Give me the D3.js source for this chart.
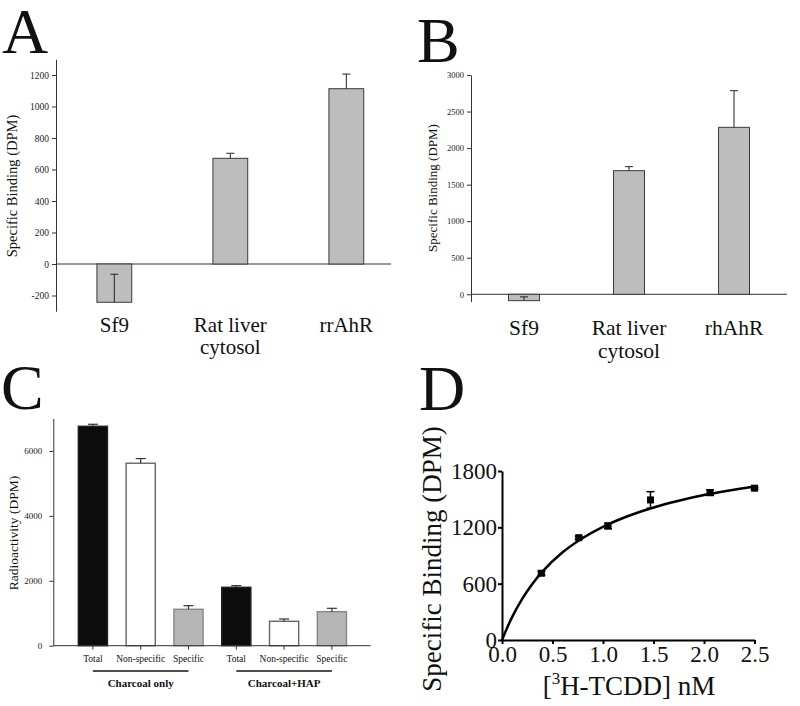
<!DOCTYPE html>
<html><head><meta charset="utf-8">
<script src="https://cdn.jsdelivr.net/npm/d3@7"></script>
</head><body style="margin:0;background:#fff">
<svg id="chart" width="800" height="706"></svg>
<script>
const FONT = "'Liberation Serif'";
// ---------- Panel A ----------
const catsA = ["Sf9", "Rat liver|cytosol", "rrAhR"];
const valsA = [-243, 671, 1113];
const errA = [178, 32, 93];
const ticksA = [-200, 0, 200, 400, 600, 800, 1000, 1200];

// ---------- Panel B ----------
const catsB = ["Sf9", "Rat liver|cytosol", "rhAhR"];
const valsB = [-87, 1691, 2284];
const errB = [52, 55, 501];
const ticksB = [0, 500, 1000, 1500, 2000, 2500, 3000];

// ---------- Panel C ----------
const catsC = ["Total", "Non-specific", "Specific", "Total", "Non-specific", "Specific"];
const kindsC = ["total", "non", "spec", "total", "non", "spec"];
const groupsC = ["Charcoal only", "Charcoal+HAP"];
const valsC = [6760, 5622, 1122, 1800, 752, 1048];
const errC = [62, 144, 111, 50, 71, 104];
const ticksC = [0, 2000, 4000, 6000];

// ---------- Panel D ----------
const concD = [0.39, 0.76, 1.05, 1.47, 2.06, 2.5];
const bindD = [711, 1090, 1215, 1492, 1570, 1617];
const errD = [20, 15, 30, 88, 30, 10];
const fitX = [0, 0.05, 0.1, 0.2, 0.3, 0.4, 0.6, 0.8, 1.0, 1.25, 1.5, 1.75, 2.0, 2.25, 2.5];
const fitY = [0, 129, 244, 438, 597, 728, 934, 1087, 1206, 1321, 1412, 1484, 1544, 1593, 1635];
const ticksDx = [0, 0.5, 1.0, 1.5, 2.0, 2.5];
const ticksDy = [0, 600, 1200, 1800];

const svg = d3.select("#chart");

function txt(sel) { return sel.style("font-family", FONT).attr("fill", "#111"); }

function panelLetter(t, x, y) {
  txt(svg.append("text")).attr("x", x).attr("y", y).attr("font-size", 64).text(t);
}

function yTitle(t, x, y, size) {
  txt(svg.append("text"))
    .attr("transform", `translate(${x},${y}) rotate(-90)`)
    .attr("text-anchor", "middle").attr("dy", "0.35em")
    .attr("font-size", size).text(t);
}

function styleAxis(g, fontSize, color, width) {
  g.selectAll("path.domain").attr("stroke", color).attr("stroke-width", width);
  g.selectAll(".tick line").attr("stroke", color).attr("stroke-width", width);
  g.selectAll(".tick text").attr("font-size", fontSize)
    .style("font-family", FONT).attr("fill", "#222");
}

const fmtInt = d => String(d);

function barPanel(cfg) {
  const { cats, vals, errs, ticks, x, y, fontTick, fontCat, catY, lineGap, fill, stroke } = cfg;
  const g = svg.append("g");
  const ax = g.append("g").attr("transform", `translate(${x.range()[0]},0)`)
    .call(d3.axisLeft(y).tickValues(ticks).tickSize(4).tickPadding(3).tickSizeOuter(0).tickFormat(fmtInt));
  styleAxis(ax, fontTick, "#333", 1);
  g.append("line").attr("x1", x.range()[0]).attr("x2", x.range()[1])
    .attr("y1", y(0)).attr("y2", y(0)).attr("stroke", "#333").attr("stroke-width", 1);
  cats.forEach((c, i) => {
    const v = vals[i];
    const y0 = y(0), yv = y(v);
    g.append("rect").attr("x", x(c)).attr("width", x.bandwidth())
      .attr("y", Math.min(y0, yv)).attr("height", Math.abs(y0 - yv))
      .attr("fill", fill).attr("stroke", stroke).attr("stroke-width", 1);
    const cx = x(c) + x.bandwidth() / 2;
    const ye = y(v + errs[i]);
    g.append("line").attr("x1", cx).attr("x2", cx).attr("y1", yv).attr("y2", ye)
      .attr("stroke", "#222").attr("stroke-width", 1);
    g.append("line").attr("x1", cx - 4).attr("x2", cx + 4).attr("y1", ye).attr("y2", ye)
      .attr("stroke", "#222").attr("stroke-width", 1);
    c.split("|").forEach((l, j) => {
      txt(g.append("text")).attr("x", cx).attr("y", catY + j * lineGap)
        .attr("text-anchor", "middle").attr("font-size", fontCat).text(l);
    });
  });
}

// Panel A
panelLetter("A", 2, 53);
{
  const x = d3.scaleBand().domain(catsA).range([56, 391]).paddingInner(0.7).paddingOuter(0.294).align(0.6);
  const y = d3.scaleLinear().domain([-300, 1300]).range([311.25, 59.25]);
  barPanel({ cats: catsA, vals: valsA, errs: errA, ticks: ticksA, x, y,
    fontTick: 9.5, fontCat: 21, catY: 332, lineGap: 22, fill: "#bdbdbd", stroke: "#3a3a3a" });
  yTitle("Specific Binding (DPM)", 12, 186, 14.5);
}

// Panel B
panelLetter("B", 417, 62);
{
  const x = d3.scaleBand().domain(catsB).range([471, 787]).paddingInner(0.705).paddingOuter(0.357).align(0.5);
  const y = d3.scaleLinear().domain([-100, 3000]).range([301.6, 75]);
  barPanel({ cats: catsB, vals: valsB, errs: errB, ticks: ticksB, x, y,
    fontTick: 8.5, fontCat: 21.5, catY: 335, lineGap: 23, fill: "#bdbdbd", stroke: "#3a3a3a" });
  yTitle("Specific Binding (DPM)", 432, 188, 13);
}

// Panel C
panelLetter("C", 1, 409);
{
  const idx = d3.range(catsC.length);
  const x = d3.scaleBand().domain(idx).range([53.3, 370.7]).paddingInner(0.39).paddingOuter(0.515).align(0.508);
  const y = d3.scaleLinear().domain([0, 7000]).range([645.7, 418.5]);
  const g = svg.append("g");
  const ax = g.append("g").attr("transform", `translate(${x.range()[0]},0)`)
    .call(d3.axisLeft(y).tickValues(ticksC).tickSize(4).tickPadding(7).tickSizeOuter(0).tickFormat(fmtInt));
  styleAxis(ax, 9, "#333", 1);
  const fills = { total: "#0c0c0c", non: "#ffffff", spec: "#b6b6b6" };
  const strokes = { total: "#222", non: "#666", spec: "#888" };
  idx.forEach(i => {
    const v = valsC[i];
    const bx = x(i), cx = bx + x.bandwidth() / 2;
    g.append("rect").attr("x", bx).attr("width", x.bandwidth())
      .attr("y", y(v)).attr("height", y(0) - y(v))
      .attr("fill", fills[kindsC[i]]).attr("stroke", strokes[kindsC[i]]).attr("stroke-width", 1.4);
    const ye = y(v + errC[i]);
    g.append("line").attr("x1", cx).attr("x2", cx).attr("y1", y(v)).attr("y2", ye)
      .attr("stroke", "#333").attr("stroke-width", 1.2);
    g.append("line").attr("x1", cx - 5).attr("x2", cx + 5).attr("y1", ye).attr("y2", ye)
      .attr("stroke", "#333").attr("stroke-width", 1.2);
    g.append("line").attr("x1", cx).attr("x2", cx).attr("y1", y(0)).attr("y2", y(0) + 4)
      .attr("stroke", "#333").attr("stroke-width", 1);
    txt(g.append("text")).attr("x", cx).attr("y", 662).attr("text-anchor", "middle")
      .attr("font-size", 9.5).text(catsC[i]);
  });
  g.append("line").attr("x1", x.range()[0]).attr("x2", x.range()[1])
    .attr("y1", y(0)).attr("y2", y(0)).attr("stroke", "#333").attr("stroke-width", 1);
  groupsC.forEach((gname, k) => {
    const a = x(k * 3) + x.bandwidth() / 2, b = x(k * 3 + 2) + x.bandwidth() / 2;
    g.append("line").attr("x1", a).attr("x2", b).attr("y1", 671).attr("y2", 671)
      .attr("stroke", "#111").attr("stroke-width", 1.5);
    txt(g.append("text")).attr("x", (a + b) / 2).attr("y", 687).attr("text-anchor", "middle")
      .attr("font-size", 11).attr("font-weight", "bold").text(gname);
  });
  yTitle("Radioactivity (DPM)", 13.5, 533, 13.5);
}

// Panel D
panelLetter("D", 419, 410);
{
  const x = d3.scaleLinear().domain([0, 2.5]).range([502, 754.5]);
  const y = d3.scaleLinear().domain([0, 1800]).range([640, 471]);
  const g = svg.append("g");
  const ay = g.append("g").attr("transform", `translate(${x.range()[0]},0)`)
    .call(d3.axisLeft(y).tickValues(ticksDy).tickSize(4).tickPadding(1).tickSizeOuter(0).tickFormat(fmtInt));
  styleAxis(ay, 23, "#000", 2);
  ay.selectAll(".tick text").attr("fill", "#111");
  const axx = g.append("g").attr("transform", `translate(0,${y.range()[0]})`)
    .call(d3.axisBottom(x).tickValues(ticksDx).tickSize(4).tickPadding(2).tickSizeOuter(0).tickFormat(d3.format(".1f")));
  styleAxis(axx, 23, "#000", 2);
  axx.selectAll(".tick text").attr("fill", "#111");
  const pts = fitX.map((v, i) => [v, fitY[i]]);
  g.append("path").datum(pts)
    .attr("d", d3.line().x(d => x(d[0])).y(d => y(d[1])).curve(d3.curveMonotoneX))
    .attr("fill", "none").attr("stroke", "#000").attr("stroke-width", 2.5);
  concD.forEach((c, i) => {
    const cx = x(c), cy = y(bindD[i]);
    const yt = y(bindD[i] + errD[i]), yb = y(bindD[i] - errD[i]);
    g.append("line").attr("x1", cx).attr("x2", cx).attr("y1", yt).attr("y2", yb)
      .attr("stroke", "#000").attr("stroke-width", 1.5);
    [yt, yb].forEach(yy => g.append("line").attr("x1", cx - 4).attr("x2", cx + 4)
      .attr("y1", yy).attr("y2", yy).attr("stroke", "#000").attr("stroke-width", 1.5));
    g.append("rect").attr("x", cx - 3.5).attr("y", cy - 3.5).attr("width", 7).attr("height", 7)
      .attr("fill", "#000");
  });
  const t = txt(svg.append("text")).attr("x", 629).attr("y", 695).attr("text-anchor", "middle")
    .attr("font-size", 27);
  t.append("tspan").text("[");
  t.append("tspan").attr("font-size", 17).attr("dy", -11).text("3");
  t.append("tspan").attr("dy", 11).text("H-TCDD] nM");
  yTitle("Specific Binding (DPM)", 432, 559, 27);
}
</script>
</body></html>
